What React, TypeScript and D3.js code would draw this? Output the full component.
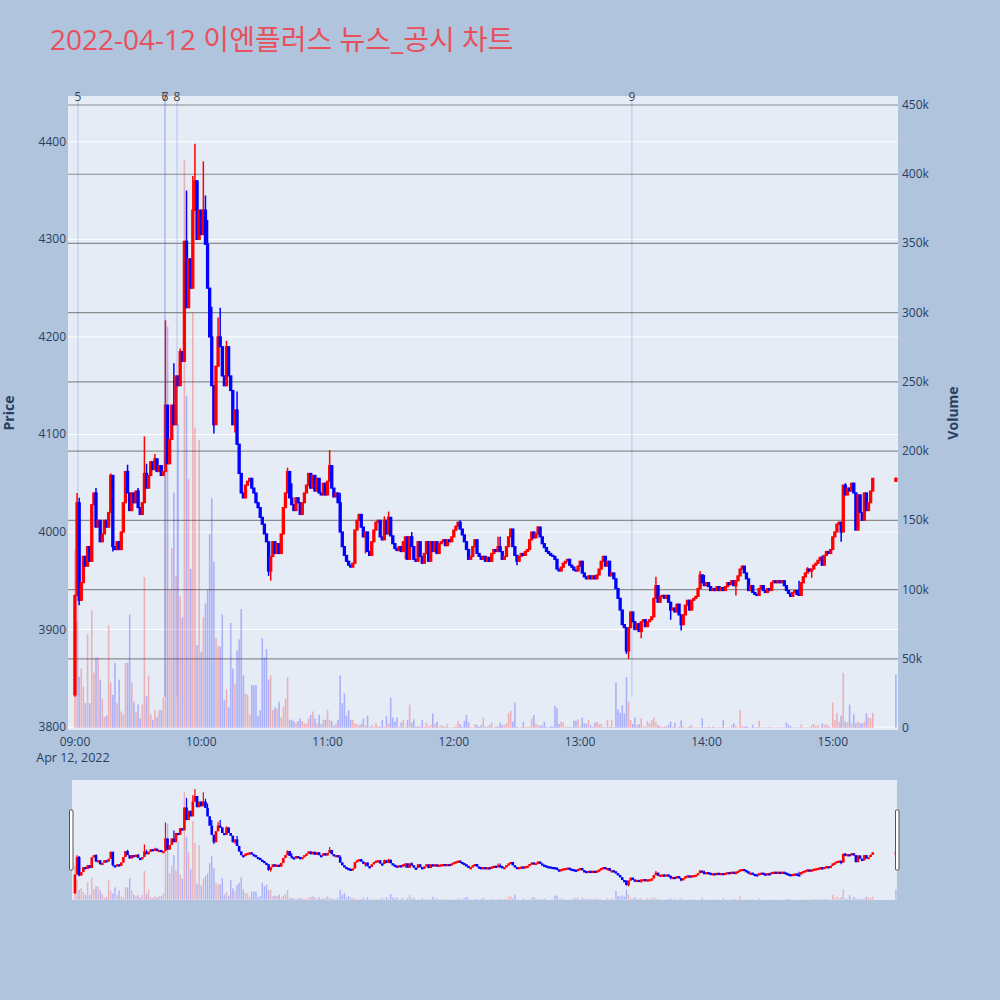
import React from 'react';
import * as d3 from 'd3';

const TITLE = '2022-04-12 이엔플러스 뉴스_공시 차트';
const DAY_START = new Date(2022, 3, 12, 9, 0, 0);
const FIRST_OPEN = 3833;

// per-minute closing prices from 09:00 (minute 0) to 15:19 (minute 379)
const CLOSE = [
  3935, 4030, 3930, 3948, 3975, 3965, 3985, 3970, 4028, 4040,
  4005, 4012, 3990, 3998, 4012, 4005, 4020, 4058, 3985, 3982,
  3990, 3982, 4000, 4030, 4062, 4040, 4022, 4040, 4030, 4042,
  4025, 4018, 4030, 4060, 4045, 4058, 4072, 4064, 4075, 4062,
  4068, 4058, 4062, 4130, 4070, 4095, 4130, 4110, 4160, 4150,
  4185, 4175, 4298, 4230, 4280, 4250, 4330, 4360, 4300, 4330,
  4305, 4330, 4295, 4250, 4200, 4150, 4110, 4170, 4200, 4190,
  4160, 4150, 4190, 4160, 4145, 4110, 4125, 4090, 4060, 4040,
  4035, 4048, 4052, 4055, 4045, 4040, 4030, 4025, 4015, 4008,
  3998, 3990, 3960, 3975, 3990, 3978, 3988, 3978, 3998, 4025,
  4040, 4062, 4035, 4028, 4022, 4035, 4030, 4018, 4030, 4040,
  4048, 4060, 4045, 4058, 4042, 4055, 4040, 4038, 4050, 4038,
  4052, 4068, 4045, 4036, 4040, 4030, 4000, 3985, 3976, 3970,
  3966, 3964, 3968, 4002, 4012, 4018, 4005, 3995, 4000, 3980,
  3976, 3990, 4002, 4010, 4012, 3995, 3992, 4012, 3998, 4015,
  3996, 3988, 3983, 3981, 3985, 3980, 3990, 3995, 3972, 3995,
  3985, 3972, 3970, 3990, 3975, 3968, 3978, 3990, 3970, 3990,
  3980, 3990, 3978, 3988, 3990, 3992, 3986, 3992, 3990, 3995,
  4002, 4006, 4010, 4003, 3997, 3990, 3982, 3972, 3975, 3985,
  3992, 3978, 3975, 3972, 3975, 3970, 3974, 3970, 3978, 3982,
  3980, 3985, 3980, 3972, 3975, 3985, 3995, 4003, 3985, 3976,
  3970, 3975, 3978, 3976, 3980, 3982, 3992, 4000, 3994, 3998,
  4005, 3995, 3988, 3984, 3980, 3978, 3976, 3975, 3972, 3962,
  3960, 3964, 3968, 3970, 3972, 3966, 3964, 3961, 3960, 3965,
  3970, 3958, 3954, 3952, 3955, 3952, 3955, 3952, 3956, 3962,
  3970, 3975, 3965, 3970, 3955, 3958, 3952, 3942, 3932, 3920,
  3905, 3902, 3878, 3902, 3918, 3908, 3900, 3906, 3898, 3908,
  3910, 3903, 3908, 3910, 3913, 3932, 3945, 3928, 3934, 3935,
  3932, 3935, 3928, 3920, 3922, 3918, 3926, 3915, 3905, 3915,
  3925, 3930, 3920, 3930, 3932, 3934, 3942, 3956, 3948, 3945,
  3948, 3944, 3940, 3942, 3940, 3944, 3940, 3943, 3940, 3944,
  3948, 3946, 3950, 3945, 3950, 3955, 3962, 3965, 3958, 3952,
  3940, 3945, 3938, 3936, 3935, 3942, 3945, 3940, 3938, 3942,
  3940, 3948, 3950, 3948, 3950, 3948, 3950, 3945, 3940, 3937,
  3934, 3938, 3940, 3936, 3935, 3948, 3954, 3958, 3962, 3960,
  3962, 3966, 3968, 3971, 3974, 3966, 3976, 3980, 3978, 3982,
  3995, 4000, 4008, 4010, 4000, 4048, 4038, 4045, 4042, 4050,
  4040, 4002, 4038, 4020, 4012, 4040, 4022, 4030, 4042, 4055,
];

// per-minute traded volume, thousands of shares
const VOLUME_K = [
  129, 77, 37, 43, 30, 18, 68, 18, 85, 40,
  51, 51, 35, 21, 8, 9, 74, 33, 24, 47,
  18, 35, 12, 10, 47, 47, 82, 33, 19, 12,
  17, 7, 17, 109, 23, 38, 10, 6, 13, 8,
  13, 13, 22, 200, 290, 100, 130, 170, 110, 220,
  95, 80, 410, 240, 180, 115, 300, 217, 60, 208,
  55, 80, 90, 100, 140, 166, 120, 65, 59, 59,
  82, 20, 28, 15, 76, 43, 32, 56, 64, 86,
  38, 25, 24, 10, 31, 31, 31, 9, 13, 65,
  51, 57, 35, 38, 13, 15, 14, 19, 8, 15,
  21, 37, 6, 6, 5, 3.4, 5, 7, 5, 3.4,
  3.4, 7, 9.6, 12, 7, 3.4, 9.6, 3, 6, 6,
  13, 6, 5, 2, 3.4, 6, 38, 18, 25, 9,
  13, 6, 6, 3.4, 2.9, 2.2, 2.9, 7, 2, 9,
  1, 2.2, 1, 3.4, 1.5, 1, 5.8, 1, 8.7, 3.4,
  22, 7.5, 4.6, 7.7, 1, 3.9, 5.8, 1, 5.8, 17,
  3.9, 6.3, 1, 1.5, 1, 5.8, 1, 3.9, 1, 2.2,
  10.6, 2.9, 4.6, 1, 2.2, 1.5, 1, 2.9, 0.5, 0.5,
  1, 1.5, 5.3, 2.9, 1, 5.3, 9.4, 4.1, 1, 0.5,
  2.9, 2.2, 1, 2.2, 7.5, 1, 1, 2.2, 3.9, 0.5,
  1, 1.5, 3.9, 2.2, 2.2, 3.4, 10.6, 12.5, 4.6, 18.5,
  1, 0.5, 1, 4.6, 1, 1, 1.5, 7, 9.4, 2.9,
  2.2, 1.7, 2.2, 4.6, 1, 0.5, 1.5, 1, 16, 14.5,
  2.9, 4.6, 4.1, 1, 1, 1, 0.5, 5.3, 5.3, 6.3,
  1, 7.7, 3.4, 2.9, 5.8, 2.2, 1, 3.9, 4.6, 2.9,
  2.9, 1, 0.5, 5.8, 1, 5.8, 0.5, 33, 13.5, 11,
  16.6, 10.6, 37, 19, 5.8, 3, 7.7, 2.2, 2.9, 7,
  1.5, 1, 5, 3.4, 5.8, 7.5, 4.6, 2.2, 1.5, 1,
  1, 1.5, 2.2, 4.6, 1, 3.9, 0.5, 1, 5.5, 1.5,
  0.5, 0.5, 1.5, 2.2, 0.5, 0.5, 0.5, 0.5, 7, 0.5,
  0.5, 1, 0.5, 1.5, 0.5, 0.5, 0.5, 0.5, 5.8, 0.5,
  0.5, 0.5, 2.2, 3.4, 1.5, 0.5, 13, 1.5, 1, 1.5,
  0.5, 0.5, 2.2, 0.5, 0.5, 5.3, 0.5, 0.5, 0.5, 0.5,
  1, 0.5, 0.5, 0.5, 0.5, 0.5, 0.5, 0.5, 4.1, 2.2,
  1.5, 0.5, 0.5, 0.5, 0.5, 2.6, 0.5, 0.5, 0.5, 0.5,
  2.2, 2.9, 1.5, 2.2, 0.5, 3.4, 2.2, 2.9, 1.5, 0.5,
  18.5, 5.8, 11, 4.6, 9, 40, 4.6, 4.1, 17, 3.4,
  10, 3.4, 4.6, 3.4, 3.4, 4.6, 10.6, 7.7, 7, 11,
];

// wick extremes that reach beyond the candle body: [minute, price]
const WICK_HIGH = [
  [1, 4040], [2, 4035], [10, 4045], [17, 4060], [25, 4069], [30, 4045], [33, 4098], [34, 4070],
  [38, 4080], [43, 4217], [44, 4130], [47, 4173], [50, 4188], [53, 4350], [56, 4365], [57, 4398],
  [61, 4380], [62, 4345], [63, 4320], [65, 4231], [68, 4220], [69, 4230], [72, 4196], [77, 4144],
  [101, 4066], [103, 4050], [121, 4084], [126, 4040], [147, 4016], [149, 4021], [160, 4000],
  [183, 4012], [201, 3995], [202, 3995], [220, 4006], [276, 3954], [297, 3960], [299, 3956],
  [344, 3950], [348, 3964], [355, 3976], [366, 4050], [371, 4040],
];
const WICK_LOW = [
  [0, 3831], [2, 3925], [18, 3980], [66, 4101], [76, 4102], [92, 3955], [93, 3950], [138, 3978],
  [157, 3972], [210, 3966], [262, 3875], [263, 3870], [269, 3891], [283, 3910], [288, 3899],
  [314, 3935], [350, 3953], [364, 3990],
];

// closing auction at 15:30 (candle rises, its volume bar is drawn in the falling colour)
const AUCTION_MINUTE = 390;
const AUCTION_OHLC = [4052, 4056, 4052, 4055];
const AUCTION_VOLUME_K = 38.8;

// news / disclosure markers
const NEWS_LABELS = ['5', '6', '7', '8', '9'];
const NEWS_MINUTES = [1.4, 42.7, 42.8, 48.5, 264.6];

const PRICE_TICKS = [3800, 3900, 4000, 4100, 4200, 4300, 4400];
const VOLUME_TICKS = [0, 50, 100, 150, 200, 250, 300, 350, 400, 450];

const UP = '#ff0000';
const DOWN = '#0000ff';
const FONT = '"Open Sans", "Noto Sans", "Noto Sans CJK KR", sans-serif';
const TICK_COLOR = '#2a3f5f';

const minuteToDate = (m: number) => new Date(DAY_START.getTime() + m * 60000);

type Candle = { t: Date; o: number; h: number; l: number; c: number; v: number; up: boolean; volUp: boolean };

function buildCandles(): Candle[] {
  const hi = new Map(WICK_HIGH.map(([m, p]) => [m, p]));
  const lo = new Map(WICK_LOW.map(([m, p]) => [m, p]));
  const out: Candle[] = CLOSE.map((c, m) => {
    const o = m === 0 ? FIRST_OPEN : CLOSE[m - 1];
    const h = Math.max(o, c, hi.get(m) ?? -Infinity);
    const l = Math.min(o, c, lo.get(m) ?? Infinity);
    const up = c >= o;
    return { t: minuteToDate(m), o, h, l, c, v: VOLUME_K[m], up, volUp: up };
  });
  const [o, h, l, c] = AUCTION_OHLC;
  out.push({ t: minuteToDate(AUCTION_MINUTE), o, h, l, c, v: AUCTION_VOLUME_K, up: true, volUp: false });
  return out;
}

const PLOT = { left: 68, right: 898, top: 96, bottom: 730 };
const SLIDER = { left: 72, right: 897, top: 780, bottom: 900 };

export default function App() {
  const candles = buildCandles();
  const x = d3
    .scaleTime()
    .domain([minuteToDate(-3.3), minuteToDate(391)])
    .range([PLOT.left, PLOT.right]);
  const y = d3.scaleLinear().domain([3797, 4447]).range([PLOT.bottom, PLOT.top]);
  const yv = d3.scaleLinear().domain([-1.4, 456.5]).range([PLOT.bottom, PLOT.top]);
  const ys = d3.scaleLinear().domain([3797, 4447]).range([SLIDER.bottom, SLIDER.top]);
  const yvs = d3.scaleLinear().domain([-1.4, 456.5]).range([SLIDER.bottom, SLIDER.top]);

  const hourTicks = x.ticks(d3.timeHour.every(1)!);
  const fmt = d3.timeFormat('%H:%M');

  const bw = 2.1;
  const volW = 1.6;

  return (
    <svg
      width={1000}
      height={1000}
      style={{ position: 'absolute', left: 0, top: 0, background: '#b0c4de', fontFamily: FONT }}
    >
      <rect x={0} y={0} width={1000} height={1000} fill="#b0c4de" />
      <text x={50} y={50} fontSize={28} fill="#e8505b" fontFamily={FONT}>
        {TITLE}
      </text>

      {/* main plot background */}
      <rect
        x={PLOT.left}
        y={PLOT.top}
        width={PLOT.right - PLOT.left}
        height={PLOT.bottom - PLOT.top}
        fill="#e5ecf6"
      />
      {/* price grid */}
      {PRICE_TICKS.map((p) => (
        <line key={'pg' + p} x1={PLOT.left} x2={PLOT.right} y1={y(p)} y2={y(p)} stroke="#fff" strokeWidth={1} />
      ))}
      {/* volume grid */}
      {VOLUME_TICKS.filter((v) => v > 0).map((v) => (
        <line key={'vg' + v} x1={PLOT.left} x2={PLOT.right} y1={yv(v)} y2={yv(v)} stroke="#8c8c8c" strokeWidth={1.2} />
      ))}

      {/* volume bars */}
      {candles.map((d, i) => (
        <rect
          key={'v' + i}
          x={x(d.t) - volW / 2}
          width={volW}
          y={yv(d.v)}
          height={Math.max(0, yv(0) - yv(d.v))}
          fill={d.volUp ? UP : DOWN}
          fillOpacity={0.25}
        />
      ))}

      {/* candles */}
      {candles.map((d, i) => {
        const col = d.up ? UP : DOWN;
        const cx = x(d.t);
        const top = y(Math.max(d.o, d.c));
        const bot = y(Math.min(d.o, d.c));
        return (
          <g key={'c' + i}>
            <line x1={cx} x2={cx} y1={y(d.h)} y2={y(d.l)} stroke={col} strokeWidth={1.5} />
            <rect
              x={cx - bw / 2}
              y={top}
              width={bw}
              height={Math.max(0.5, bot - top)}
              fill={col}
              stroke={col}
              strokeWidth={1.2}
            />
          </g>
        );
      })}

      {/* news markers */}
      {NEWS_MINUTES.map((m, i) => {
        const px = x(minuteToDate(m));
        return (
          <g key={'n' + i}>
            <line x1={px} x2={px} y1={y(3831)} y2={PLOT.top + 4} stroke="rgb(65,105,225)" strokeOpacity={0.3} strokeWidth={1} />
            <text x={px} y={101} fontSize={12} fill="#444" textAnchor="middle" fontFamily={FONT}>
              {NEWS_LABELS[i]}
            </text>
          </g>
        );
      })}

      {/* left axis */}
      {PRICE_TICKS.map((p) => (
        <text key={'pl' + p} x={66} y={y(p) + 4} fontSize={12} fill={TICK_COLOR} textAnchor="end">
          {p}
        </text>
      ))}
      {/* right axis */}
      {VOLUME_TICKS.map((v) => (
        <text key={'vl' + v} x={902} y={yv(v) + 4} fontSize={12} fill={TICK_COLOR} textAnchor="start">
          {v === 0 ? '0' : `${v}k`}
        </text>
      ))}
      {/* x axis */}
      {hourTicks.map((t) => (
        <text key={'xt' + t.getTime()} x={x(t)} y={746} fontSize={12} fill={TICK_COLOR} textAnchor="middle">
          {fmt(t)}
        </text>
      ))}
      <text x={x(DAY_START) - 2} y={762} fontSize={12.5} fill={TICK_COLOR} textAnchor="middle">
        {d3.timeFormat('%b %-d, %Y')(DAY_START)}
      </text>

      {/* axis titles */}
      <text
        transform="translate(14,413) rotate(-90)"
        fontSize={14}
        fontWeight="bold"
        fill={TICK_COLOR}
        textAnchor="middle"
      >
        Price
      </text>
      <text
        transform="translate(958,413) rotate(-90)"
        fontSize={14}
        fontWeight="bold"
        fill={TICK_COLOR}
        textAnchor="middle"
      >
        Volume
      </text>

      {/* range slider */}
      <rect
        x={SLIDER.left}
        y={SLIDER.top}
        width={SLIDER.right - SLIDER.left}
        height={SLIDER.bottom - SLIDER.top}
        fill="#e5ecf6"
      />
      {candles.map((d, i) => (
        <rect
          key={'sv' + i}
          x={x(d.t) - 0.7}
          width={1.4}
          y={yvs(d.v)}
          height={Math.max(0, yvs(0) - yvs(d.v))}
          fill={d.volUp ? UP : DOWN}
          fillOpacity={0.25}
        />
      ))}
      {candles.map((d, i) => {
        const col = d.up ? UP : DOWN;
        const cx = x(d.t);
        const top = ys(Math.max(d.o, d.c));
        const bot = ys(Math.min(d.o, d.c));
        return (
          <g key={'sc' + i}>
            <line x1={cx} x2={cx} y1={ys(d.h)} y2={ys(d.l)} stroke={col} strokeWidth={1.2} />
            <rect x={cx - 1.3} y={top} width={2.6} height={Math.max(2.2, bot - top)} fill={col} />
          </g>
        );
      })}
      <rect x={69.5} y={810} width={3.5} height={60} fill="#fff" stroke="#555" strokeWidth={1} rx={1} />
      <rect x={895.5} y={810} width={3.5} height={60} fill="#fff" stroke="#555" strokeWidth={1} rx={1} />
    </svg>
  );
}
